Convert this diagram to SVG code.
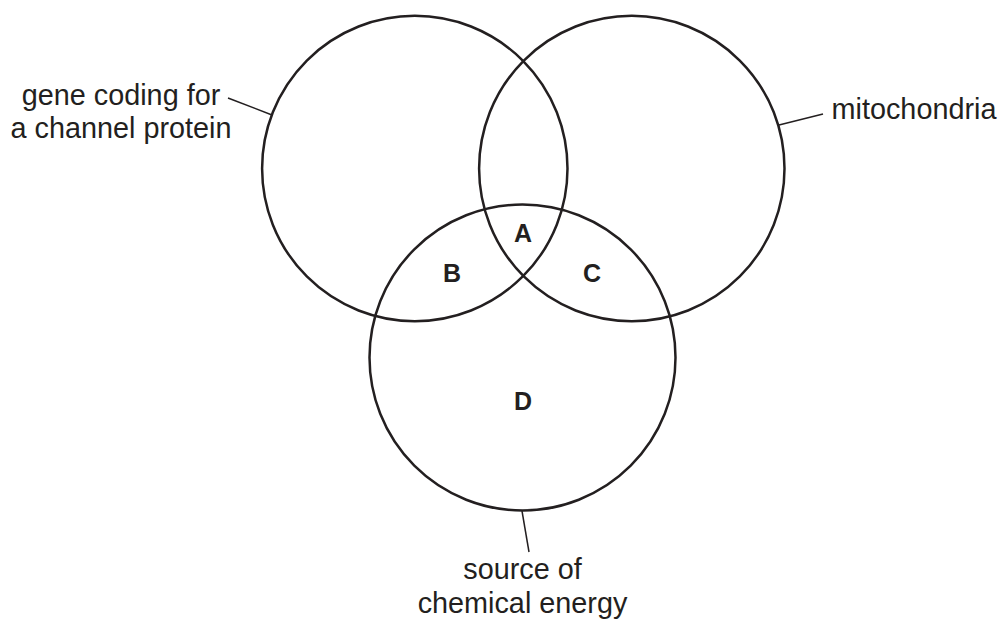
<svg xmlns="http://www.w3.org/2000/svg" width="1002" height="619" viewBox="0 0 1002 619">
<style>
.c{fill:none;stroke:#231f20;stroke-width:2.5}
.l{stroke:#231f20;stroke-width:1.5;fill:none}
.t{font-family:"Liberation Sans",Arial,sans-serif;font-size:28.8px;fill:#231f20;text-anchor:middle}
.b{font-family:"Liberation Sans",Arial,sans-serif;font-size:25px;font-weight:bold;fill:#231f20;text-anchor:middle}
</style>
<rect width="1002" height="619" fill="#fff"/>
<g id="connectors">
<line class="l" x1="228" y1="98" x2="272" y2="115"/>
<line class="l" x1="779" y1="125" x2="823" y2="114"/>
<line class="l" x1="522" y1="511" x2="529" y2="552"/>
</g>
<g id="circle-gene">
<circle class="c" cx="414.8" cy="168.5" r="152.7"/>
<text class="t" x="121" y="105">gene coding for</text>
<text class="t" x="121" y="138">a channel protein</text>
</g>
<g id="circle-mito">
<circle class="c" cx="631.8" cy="168.5" r="152.7"/>
<text class="t" x="914" y="119">mitochondria</text>
</g>
<g id="circle-energy">
<circle class="c" cx="522.5" cy="357.5" r="153"/>
<text class="t" x="522.5" y="579">source of</text>
<text class="t" x="522.5" y="613">chemical energy</text>
</g>
<g id="label-A"><text class="b" x="523" y="242">A</text></g>
<g id="label-B"><text class="b" x="452" y="282">B</text></g>
<g id="label-C"><text class="b" x="592" y="282">C</text></g>
<g id="label-D"><text class="b" x="523" y="410">D</text></g>
</svg>
